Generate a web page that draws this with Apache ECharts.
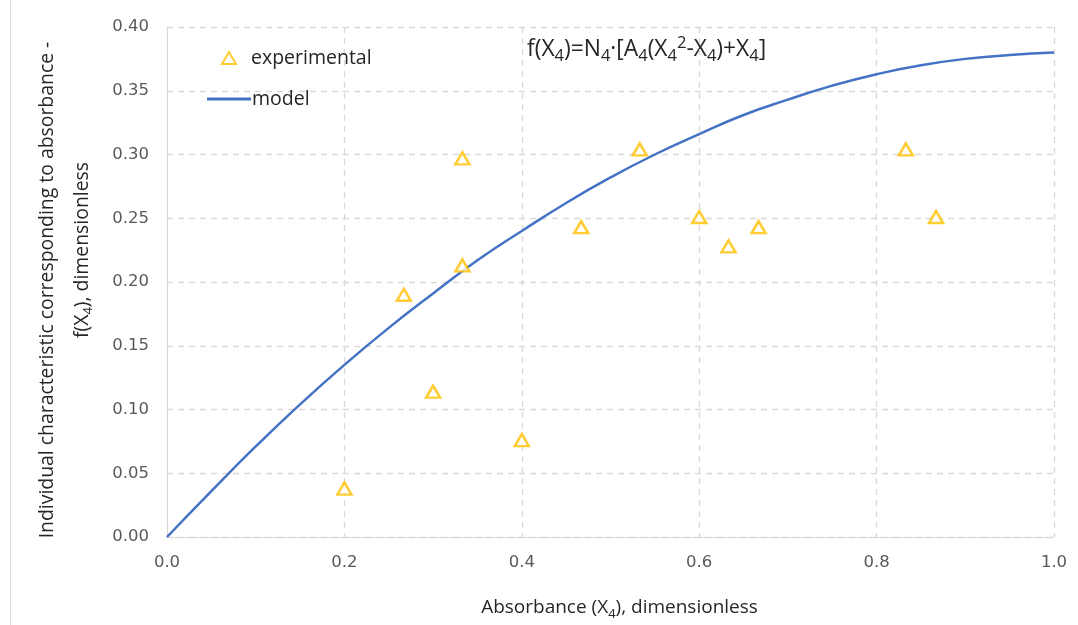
<!DOCTYPE html>
<html>
<head>
<meta charset="utf-8">
<script src="https://cdn.jsdelivr.net/npm/echarts@6/dist/echarts.min.js"></script>
<style>
  html, body { margin: 0; padding: 0; background: #fff; }
  #chart { width: 1078px; height: 625px; }
</style>
</head>
<body>
<div id="chart"></div>
<script>
// experimental points
const expX = [0.2, 0.267, 0.3, 0.333, 0.333, 0.4, 0.467, 0.533, 0.6, 0.633, 0.667, 0.833, 0.867];
const expY = [0.038, 0.190, 0.114, 0.297, 0.213, 0.076, 0.243, 0.304, 0.251, 0.228, 0.243, 0.304, 0.251];

// model curve, read at every 0.05
const modelX = [0, 0.05, 0.1, 0.15, 0.2, 0.25, 0.3, 0.35, 0.4, 0.45, 0.5,
  0.55, 0.6, 0.65, 0.7, 0.75, 0.8, 0.85, 0.9, 0.95, 1.0];
const modelY = [0, 0.036, 0.071, 0.104, 0.135, 0.164, 0.191, 0.217, 0.240, 0.262, 0.282,
  0.300, 0.316, 0.331, 0.343, 0.354, 0.363, 0.370, 0.375, 0.378, 0.380];

const xTicks = { min: 0, max: 1, interval: 0.2 };
const yTicks = { min: 0, max: 0.4, interval: 0.05 };

const labelFont = "DejaVu Sans";
const textFont = "Open Sans";
const textColor = "#262626";
const gridColor = "#D9D9D9";

// sub/superscript pieces for rich text
const subStyle = { fontFamily: textFont, fontSize: 13, lineHeight: 13, verticalAlign: "bottom" };
const supStyle = { fontFamily: textFont, fontSize: 13, lineHeight: 13, verticalAlign: "top" };

const chart = echarts.init(document.getElementById("chart"));

const option = {
  backgroundColor: "#fff",
  animation: false,
  grid: { left: 167, right: 24, top: 27, bottom: 88, outerBoundsMode: "none" },
  legend: [
    {
      data: ["experimental"],
      left: 221,
      top: 48,
      padding: 0,
      itemWidth: 14,
      itemHeight: 12,
      textStyle: { fontFamily: textFont, fontSize: 19.5, color: textColor, padding: [0, 0, 0, 10] },
    },
    {
      data: ["model"],
      left: 207,
      top: 89,
      padding: 0,
      icon: "rect",
      itemWidth: 44,
      itemHeight: 3,
      textStyle: { fontFamily: textFont, fontSize: 19.5, color: textColor, padding: [0, 0, 0, -4] },
    },
  ],
  xAxis: {
    type: "value",
    min: xTicks.min,
    max: xTicks.max,
    interval: xTicks.interval,
    name: "Absorbance (X{s|4}), dimensionless",
    nameLocation: "middle",
    nameGap: 58,
    nameTextStyle: {
      fontFamily: textFont,
      fontSize: 19,
      lineHeight: 26,
      color: textColor,
      padding: [0, 0, 0, 18],
      rich: { s: Object.assign({ color: textColor }, subStyle) },
    },
    axisLine: { show: true, lineStyle: { color: gridColor, width: 1 } },
    axisTick: { show: false },
    axisLabel: {
      margin: 17,
      fontFamily: labelFont,
      fontSize: 16.5,
      color: "#595959",
      formatter: (v) => v.toFixed(1),
    },
    splitLine: { show: true, lineStyle: { color: gridColor, type: [6, 5], width: 1.3 } },
  },
  yAxis: {
    type: "value",
    min: yTicks.min,
    max: yTicks.max,
    interval: yTicks.interval,
    axisLine: { show: true, lineStyle: { color: gridColor, width: 1 } },
    axisTick: { show: false },
    axisLabel: {
      margin: 18,
      fontFamily: labelFont,
      fontSize: 16.5,
      color: "#595959",
      formatter: (v) => v.toFixed(2),
    },
    splitLine: { show: true, lineStyle: { color: gridColor, type: [6, 5], width: 1.3 } },
  },
  graphic: [
    {
      type: "line",
      shape: { x1: 10.5, y1: 0, x2: 10.5, y2: 625 },
      style: { stroke: gridColor, lineWidth: 1 },
    },
    {
      type: "text",
      x: 47,
      y: 290,
      rotation: Math.PI / 2,
      style: {
        text: "Individual characteristic corresponding to absorbance -",
        fontFamily: textFont,
        fontSize: 19.4,
        fill: textColor,
        align: "center",
        verticalAlign: "middle",
      },
    },
    {
      type: "text",
      x: 82,
      y: 250,
      rotation: Math.PI / 2,
      style: {
        text: "f(X{s|4}), dimensionless",
        fontFamily: textFont,
        fontSize: 19.4,
        lineHeight: 26,
        fill: textColor,
        align: "center",
        verticalAlign: "middle",
        rich: { s: Object.assign({ fill: textColor }, subStyle) },
      },
    },
    {
      type: "text",
      x: 527,
      y: 50,
      style: {
        text: "f(X{s|4})=N{s|4}·[A{s|4}(X{s|4}{p|2}-X{s|4})+X{s|4}]",
        fontFamily: textFont,
        fontSize: 22.8,
        lineHeight: 30,
        fill: textColor,
        align: "left",
        verticalAlign: "middle",
        rich: {
          s: Object.assign({ fill: textColor }, subStyle, { fontSize: 16.5, lineHeight: 15 }),
          p: Object.assign({ fill: textColor }, supStyle, { fontSize: 16.5, lineHeight: 15 }),
        },
      },
    },
  ],
  series: [
    {
      name: "model",
      type: "line",
      smooth: true,
      showSymbol: false,
      z: 2,
      lineStyle: { color: "#4472C4", width: 2.5 },
      itemStyle: { color: "#4472C4" },
      data: modelX.map((x, i) => [x, modelY[i]]),
    },
    {
      name: "experimental",
      type: "scatter",
      symbol: "triangle",
      symbolSize: [14, 12],
      z: 3,
      itemStyle: { color: "#fff", borderColor: "#FFC000", borderWidth: 2.5 },
      data: expX.map((x, i) => [x, expY[i]]),
    },
  ],
};

chart.setOption(option);
</script>
</body>
</html>
